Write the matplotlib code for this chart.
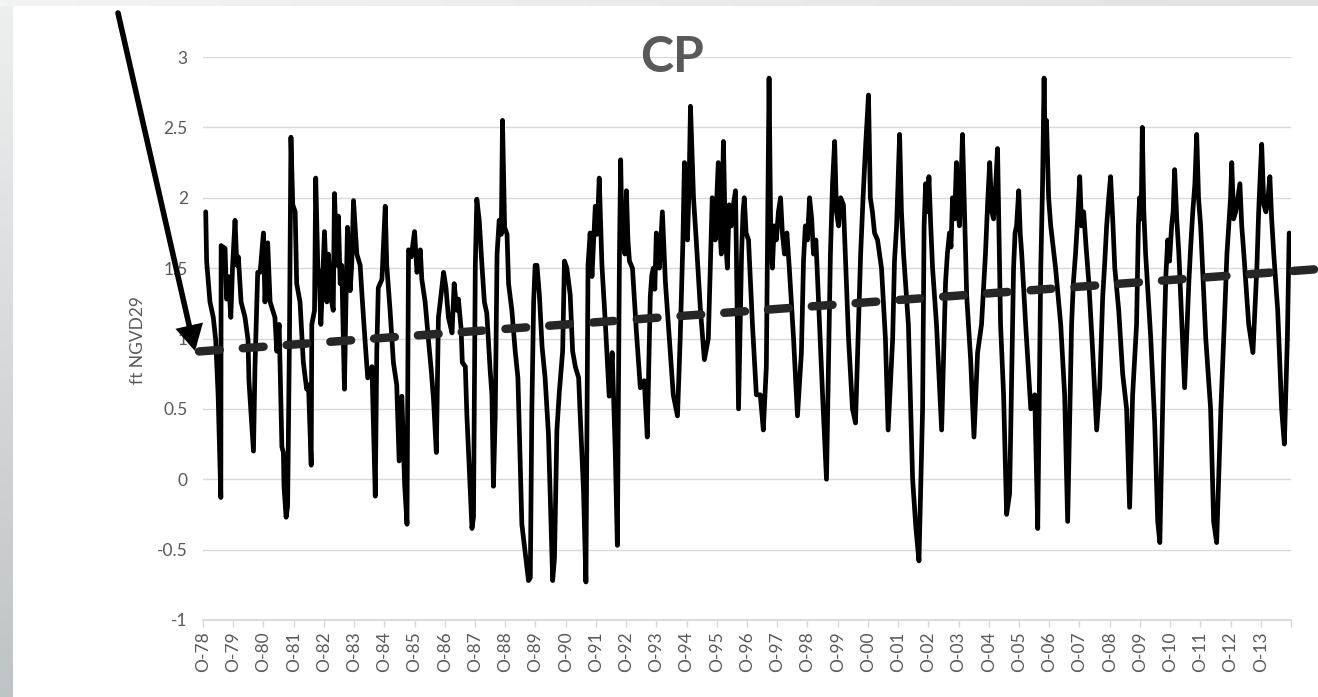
import numpy as np
import matplotlib
matplotlib.use("Agg")
import matplotlib.pyplot as plt
from matplotlib.patches import FancyArrowPatch

plt.rcParams['font.family'] = ['Lato', 'DejaVu Sans']

# ---------------- data (years since Oct 1978, stage in ft NGVD29) ----------------
t_years = [
    0.09, 0.12, 0.23, 0.34, 0.42, 0.50, 0.59, 0.60, 0.73, 0.78, 0.84, 0.92, 0.98, 1.06, 1.12, 1.17,
    1.26, 1.39, 1.49, 1.52, 1.67, 1.72, 1.81, 1.89, 2.00, 2.05, 2.14, 2.22, 2.38, 2.44, 2.52, 2.61,
    2.66, 2.68, 2.75, 2.80, 2.86, 2.91, 2.97, 3.05, 3.10, 3.21, 3.32, 3.43, 3.49, 3.51, 3.58, 3.60,
    3.69, 3.73, 3.80, 3.84, 3.90, 3.93, 4.02,
    4.10, 4.15, 4.24, 4.31, 4.35, 4.43, 4.48, 4.54, 4.59, 4.68, 4.73, 4.78, 4.87, 4.92, 4.98, 5.09,
    5.20, 5.26, 5.36, 5.45, 5.59, 5.70, 5.75, 5.80, 5.92, 6.03, 6.08, 6.19, 6.30, 6.41, 6.49, 6.58,
    6.67, 6.75, 6.80, 6.89, 7.00, 7.08, 7.19, 7.24, 7.35, 7.46, 7.55, 7.63, 7.72, 7.79, 7.85, 7.96,
    8.04, 8.12, 8.24, 8.31, 8.40, 8.45, 8.54, 8.58, 8.68, 8.73,
    8.90, 8.95, 9.01, 9.06, 9.14, 9.23, 9.31, 9.39, 9.50, 9.56, 9.61, 9.67, 9.73, 9.80, 9.87, 9.91,
    9.98, 10.06, 10.11, 10.22, 10.33, 10.42, 10.55, 10.77, 10.83, 10.88, 10.94, 10.99, 11.05, 11.13,
    11.22, 11.32, 11.43, 11.57, 11.63, 11.71, 11.79, 11.90, 11.96, 12.04, 12.15, 12.23, 12.32, 12.43,
    12.48, 12.59, 12.67, 12.74, 12.81, 12.87, 12.98, 13.04, 13.11, 13.20, 13.31, 13.44,
    13.54, 13.64, 13.71, 13.78, 13.82, 13.87, 13.91, 13.96, 14.01, 14.06, 14.11, 14.21, 14.34, 14.47,
    14.60, 14.70, 14.80, 14.85, 14.90, 14.95, 15.00, 15.05, 15.10, 15.20, 15.30, 15.43, 15.56, 15.70,
    15.79, 15.88, 15.93, 15.98, 16.03, 16.08, 16.13, 16.23, 16.32, 16.46, 16.59, 16.72, 16.80, 16.85,
    16.90, 16.95, 17.00, 17.05, 17.10, 17.15, 17.22, 17.28, 17.35, 17.41, 17.48, 17.55, 17.62, 17.72,
    17.82, 17.87, 17.91, 17.97, 18.05, 18.18, 18.31, 18.44, 18.54, 18.64, 18.73, 18.78, 18.84, 18.90,
    18.97, 19.04, 19.11, 19.17, 19.24, 19.32, 19.40, 19.54, 19.67, 19.80, 19.87, 19.93, 20.00, 20.07,
    20.14, 20.20, 20.28, 20.36, 20.50, 20.63, 20.76, 20.83, 20.90, 20.96, 21.03, 21.10, 21.19, 21.36,
    21.49, 21.59, 21.76, 21.84, 21.92, 22.02, 22.08, 22.15, 22.22, 22.32, 22.45, 22.58, 22.67, 22.82,
    22.88, 22.95, 23.05, 23.11, 23.18, 23.34, 23.48, 23.59, 23.69, 23.81, 23.86, 23.91, 23.97, 24.02,
    24.08, 24.14, 24.27, 24.44, 24.57, 24.63, 24.70, 24.75, 24.80, 24.87, 24.93, 24.98, 25.03, 25.08,
    25.13, 25.27, 25.40, 25.51, 25.63, 25.76, 25.89, 25.96, 26.03, 26.10, 26.16, 26.23, 26.29, 26.39,
    26.49, 26.59, 26.69, 26.82, 26.87, 26.92, 26.99, 27.04, 27.09, 27.22, 27.39, 27.52, 27.62, 27.72,
    27.78, 27.83, 27.87, 27.91, 27.98, 28.05, 28.13, 28.21, 28.38, 28.51, 28.61, 28.74, 28.80, 28.87,
    28.94, 29.01, 29.07, 29.14, 29.22, 29.31, 29.44, 29.57, 29.67, 29.77, 29.84, 29.90, 29.97, 30.03,
    30.10, 30.17, 30.30, 30.43, 30.56, 30.66, 30.76, 30.89, 30.95, 30.99, 31.04, 31.08, 31.13, 31.19,
    31.36, 31.49, 31.59, 31.66, 31.79, 31.86, 31.92, 31.98, 32.05, 32.10, 32.15, 32.22, 32.29, 32.39,
    32.48, 32.62, 32.68, 32.75, 32.82, 32.88, 32.94, 33.01, 33.18, 33.34, 33.44, 33.54, 33.68, 33.81,
    33.88, 33.94, 34.00, 34.04, 34.10, 34.17, 34.24, 34.31, 34.37, 34.44, 34.60, 34.74, 34.87, 34.93,
    34.97, 35.03, 35.10, 35.17, 35.24, 35.30, 35.36, 35.43, 35.56, 35.69, 35.78, 35.88, 35.94, 35.98,
]
stage_ft = [
    1.90, 1.55, 1.26, 1.15, 0.99, 0.60, -0.13, 1.66, 1.64, 1.28, 1.44, 1.15, 1.52, 1.84, 1.52, 1.58,
    1.26, 1.15, 0.99, 0.70, 0.20, 0.80, 1.47, 1.47, 1.75, 1.26, 1.68, 1.26, 1.15, 0.91, 1.10, 0.23,
    0.19, -0.05, -0.27, -0.19, 0.99, 2.43, 1.95, 1.90, 1.39, 1.26, 0.83, 0.64, 0.67, 0.54, 0.10, 1.10,
    1.20, 2.14, 1.50, 1.47, 1.10, 1.26, 1.76,
    1.26, 1.60, 1.28, 1.20, 2.03, 1.52, 1.87, 1.39, 1.52, 0.64, 1.26, 1.79, 1.34, 1.52, 1.98, 1.60,
    1.52, 1.31, 0.99, 0.72, 0.80, -0.12, 0.91, 1.36, 1.42, 1.94, 1.52, 1.20, 0.83, 0.67, 0.13, 0.59,
    -0.03, -0.32, 1.63, 1.58, 1.76, 1.47, 1.63, 1.42, 1.26, 0.99, 0.78, 0.56, 0.19, 1.15, 1.26, 1.47,
    1.36, 1.15, 1.04, 1.39, 1.20, 1.28, 1.07, 0.83, 0.80, 0.46,
    -0.35, -0.27, 1.52, 1.99, 1.84, 1.52, 1.26, 1.18, 0.78, 0.60, -0.05, 0.46, 1.60, 1.84, 1.74, 2.55,
    1.79, 1.74, 1.39, 1.20, 0.91, 0.72, -0.32, -0.72, -0.70, 0.48, 1.26, 1.52, 1.52, 1.31,
    0.94, 0.72, 0.32, -0.72, -0.56, 0.35, 0.62, 0.91, 1.55, 1.50, 1.31, 0.91, 0.80, 0.72,
    0.46, -0.08, -0.73, 1.52, 1.75, 1.44, 1.94, 1.74, 2.14, 1.52, 1.12, 0.59,
    0.90, 0.20, -0.47, 1.60, 2.27, 1.65, 1.85, 1.60, 2.05, 1.70, 1.55, 1.50, 1.05, 0.65,
    0.70, 0.30, 1.30, 1.45, 1.50, 1.35, 1.75, 1.55, 1.50, 1.90, 1.40, 1.00, 0.60, 0.45,
    1.00, 1.70, 2.25, 1.75, 1.70, 2.05, 2.65, 2.00, 1.70, 1.20, 0.85, 1.00, 1.60, 2.00,
    1.85, 1.70, 2.00, 2.25, 1.80, 1.60, 2.40, 1.75, 1.50, 1.95, 1.80, 1.95, 2.05, 0.50,
    1.60, 1.90, 2.00, 1.75, 1.70, 1.10, 0.60, 0.60, 0.35, 0.80, 2.85, 1.85, 1.50, 1.80,
    1.70, 1.90, 2.00, 1.75, 1.60, 1.75, 1.50, 1.00, 0.45, 0.90, 1.55, 1.80, 1.70, 2.00,
    1.85, 1.60, 1.70, 1.30, 0.60, 0.00, 1.60, 2.10, 2.40, 1.90, 1.80, 2.00, 1.95, 1.00,
    0.50, 0.40, 1.60, 2.00, 2.35, 2.73, 2.00, 1.90, 1.75, 1.70, 1.50, 1.00, 0.35, 1.00,
    1.55, 1.80, 2.45, 1.90, 1.60, 1.10, 0.00, -0.35, -0.58, 0.50, 1.80, 2.10, 1.90, 2.15,
    1.80, 1.50, 1.10, 0.35, 1.40, 1.60, 1.75, 1.65, 2.00, 1.85, 2.25, 1.90, 1.80, 2.10,
    2.45, 1.30, 0.85, 0.30, 0.90, 1.10, 1.60, 1.95, 2.25, 1.90, 1.85, 2.10, 2.35, 1.10,
    0.60, -0.25, -0.10, 1.50, 1.75, 1.80, 2.05, 1.75, 1.60, 1.10, 0.50, 0.60, -0.35, 1.50,
    2.10, 2.85, 2.30, 2.55, 2.00, 1.80, 1.65, 1.50, 1.10, 0.60, -0.30, 1.10, 1.40, 1.60,
    1.85, 2.15, 1.80, 1.90, 1.65, 1.40, 0.90, 0.35, 0.65, 1.30, 1.55, 1.80, 2.00, 2.15,
    1.85, 1.50, 1.20, 0.75, 0.50, -0.20, 0.60, 1.10, 1.80, 2.00, 1.85, 2.50, 1.90, 1.60,
    1.00, 0.40, -0.30, -0.45, 0.90, 1.45, 1.70, 1.55, 1.80, 1.90, 2.20, 1.85, 1.60, 1.10,
    0.65, 1.40, 1.65, 1.90, 2.10, 2.45, 2.00, 1.80, 1.00, 0.50, -0.30, -0.45, 0.50, 1.20,
    1.60, 1.80, 2.00, 2.25, 1.85, 1.90, 2.00, 2.10, 1.80, 1.60, 1.10, 0.90, 1.50, 1.90,
    2.10, 2.38, 1.95, 1.90, 2.00, 2.15, 1.85, 1.60, 1.20, 0.50, 0.25, 1.00, 1.75, 1.70,
]

x_labels = ["O-78", "O-79", "O-80", "O-81", "O-82", "O-83", "O-84", "O-85", "O-86", "O-87",
            "O-88", "O-89", "O-90", "O-91", "O-92", "O-93", "O-94", "O-95", "O-96", "O-97",
            "O-98", "O-99", "O-00", "O-01", "O-02", "O-03", "O-04", "O-05", "O-06", "O-07",
            "O-08", "O-09", "O-10", "O-11", "O-12", "O-13"]
y_ticks = [-1, -0.5, 0, 0.5, 1, 1.5, 2, 2.5, 3]
y_labels = ["-1", "-0.5", "0", "0.5", "1", "1.5", "2", "2.5", "3"]
trend_intercept = 0.91   # ft at Oct 1978
trend_slope = 0.0158     # ft per year
trend_span = [-0.13, 36.9]
title_text = "CP"
y_title = "ft NGVD29"

# ---------------- figure ----------------
W, H = 1318, 697
fig = plt.figure(figsize=(W / 100, H / 100), dpi=100)
fig.patch.set_facecolor("white")

# slide background strips
c_top = np.array([0xee, 0xf0, 0xf0]) / 255
c_bot = np.array([0xc0, 0xc3, 0xc5]) / 255
g = np.linspace(0, 1, 256)[:, None]
grad_v = (c_top[None, :] * (1 - g) + c_bot[None, :] * g)[:, None, :]
axl = fig.add_axes([0, 0, 13 / W, 1])
axl.imshow(grad_v, aspect="auto", extent=[0, 1, 0, 1])
axl.set_axis_off()

c_l = np.array([0xf3, 0xf4, 0xf4]) / 255
c_r = np.array([0xe1, 0xe2, 0xe3]) / 255
grad_h = (c_l[None, :] * (1 - g) + c_r[None, :] * g)[None, :, :]
axt = fig.add_axes([0, 1 - 6 / H, 1, 6 / H])
axt.imshow(grad_h, aspect="auto", extent=[0, 1, 0, 1])
axt.set_axis_off()

# main chart
ax = fig.add_axes([203 / W, 77 / H, 1088 / W, 563 / H])
ax.plot(t_years, stage_ft, color="black", lw=3.4, solid_joinstyle="round",
        solid_capstyle="round", zorder=3)

tt = np.array(trend_span)
ax.plot(tt, trend_intercept + trend_slope * tt, color="#262626", lw=6.1,
        dashes=(2.45, 2.73), dash_capstyle="round", clip_on=False, zorder=4)

ax.set_xlim(0, 36)
ax.set_ylim(-1, 3)
ax.set_yticks(y_ticks)
ax.set_yticklabels(y_labels)
ax.set_xticks(range(37))
ax.set_xticklabels(x_labels + [""])
ax.yaxis.grid(True, color="#d9d9d9", lw=1.0)
ax.set_axisbelow(True)
for s in ["top", "right", "left"]:
    ax.spines[s].set_visible(False)
ax.spines["bottom"].set_color("#d9d9d9")
ax.spines["bottom"].set_linewidth(1.3)
ax.tick_params(axis="x", length=5, width=1, color="#d9d9d9", labelrotation=90,
               labelsize=12.5, labelcolor="#595959", pad=3)
ax.tick_params(axis="y", length=0, pad=11, labelsize=12.5, labelcolor="#595959")
ax.set_ylabel(y_title, fontsize=12.5, color="#595959")
ax.yaxis.set_label_coords(-0.052, 0.497)

fig.text(672 / W, 1 - 58 / H, title_text, ha="center", va="center", fontsize=36,
         fontweight="bold", color="#595959")

arrow = FancyArrowPatch(posA=(1.18, 6.84), posB=(1.95, 3.46), transform=fig.dpi_scale_trans,
                        arrowstyle="-|>,head_length=12.5,head_width=6.8", mutation_scale=1,
                        lw=4.0, color="black", shrinkA=0, shrinkB=0, capstyle="round",
                        joinstyle="miter", zorder=5)
fig.add_artist(arrow)

fig.savefig("out.png", dpi=100)
